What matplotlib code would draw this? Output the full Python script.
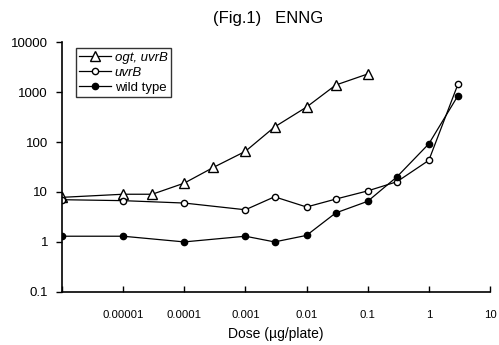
import matplotlib.pyplot as plt
import numpy as np

plt.rcParams["font.family"] = ["Liberation Sans", "DejaVu Sans"]

# dose values (ug/plate); the first point sits on the left axis
dose_ogt = [1e-6, 1e-5, 3e-5, 1e-4, 3e-4, 1e-3, 3e-3, 1e-2, 3e-2, 1e-1]
rev_ogt = [7.8, 9.0, 9.0, 15, 31, 65, 200, 500, 1380, 2300]

dose_uvr = [1e-6, 1e-5, 1e-4, 1e-3, 3e-3, 1e-2, 3e-2, 1e-1, 3e-1, 1, 3]
rev_uvr = [7.0, 6.7, 6.0, 4.4, 8.0, 5.0, 7.2, 10.5, 16, 43, 1450]

dose_wt = [1e-6, 1e-5, 1e-4, 1e-3, 3e-3, 1e-2, 3e-2, 1e-1, 3e-1, 1, 3]
rev_wt = [1.3, 1.3, 1.0, 1.3, 1.0, 1.35, 3.8, 6.5, 20, 92, 850]

x_ticks = [1e-6, 1e-5, 1e-4, 1e-3, 1e-2, 1e-1, 1, 10]
x_labels = ["", "0.00001", "0.0001", "0.001", "0.01", "0.1", "1", "10"]
y_ticks = [0.1, 1, 10, 100, 1000, 10000]
y_labels = ["0.1", "1", "10", "100", "1000", "10000"]

fig = plt.figure(figsize=(4.99, 3.45), dpi=100)
ax = fig.add_axes([0.124, 0.154, 0.858, 0.724])

ax.plot(dose_ogt, rev_ogt, color="black", lw=0.9, marker="^", ms=6.5,
        mfc="white", mec="black", mew=1.0, label="ogt, uvrB")
ax.plot(dose_uvr, rev_uvr, color="black", lw=0.9, marker="o", ms=4.5,
        mfc="white", mec="black", mew=1.0, label="uvrB")
ax.plot(dose_wt, rev_wt, color="black", lw=0.9, marker="o", ms=4.5,
        mfc="black", mec="black", label="wild type")

ax.set_xscale("log")
ax.set_yscale("log")
ax.set_xlim(1e-6, 10)
ax.set_ylim(0.1, 10000)
ax.set_xticks(x_ticks)
ax.set_xticklabels(x_labels)
ax.set_yticks(y_ticks)
ax.set_yticklabels(y_labels)
ax.minorticks_off()
ax.tick_params(axis="x", direction="in", length=4, width=1, labelsize=8.2, pad=13)
ax.tick_params(axis="y", direction="out", length=4, width=1, labelsize=9.5, pad=6)
for s in ["top", "right"]:
    ax.spines[s].set_visible(False)
for s in ["left", "bottom"]:
    ax.spines[s].set_linewidth(1.2)

ax.set_xlabel("Dose (\u00b5g/plate)", fontsize=10, labelpad=5)
fig.text(0.537, 0.945, "(Fig.1)   ENNG", ha="center", va="center", fontsize=12)

leg = ax.legend(loc="upper left", bbox_to_anchor=(0.033, 0.975), fontsize=9.5,
                frameon=True, fancybox=False, edgecolor="black",
                handlelength=2.4, handletextpad=0.3, borderpad=0.25,
                labelspacing=0.2, borderaxespad=0.0)
leg.get_frame().set_linewidth(1.0)
leg.get_texts()[0].set_style("italic")
leg.get_texts()[1].set_style("italic")

fig.savefig("out.png", dpi=100)
